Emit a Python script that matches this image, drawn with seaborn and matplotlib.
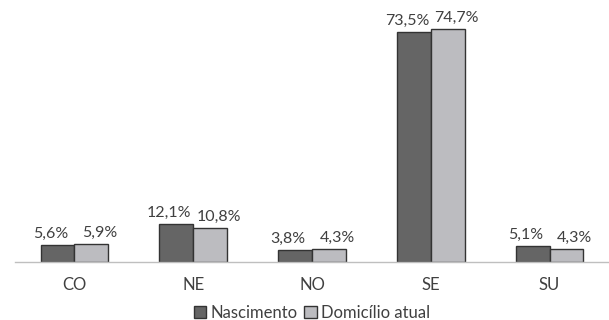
import matplotlib
matplotlib.use('Agg')
import matplotlib.pyplot as plt
import seaborn as sns
import pandas as pd

regioes = ['CO', 'NE', 'NO', 'SE', 'SU']
nascimento = [5.6, 12.1, 3.8, 73.5, 5.1]
domicilio = [5.9, 10.8, 4.3, 74.7, 4.3]
series = ['Nascimento', 'Domicílio atual']

df = pd.DataFrame({
    'regiao': regioes * 2,
    'valor': nascimento + domicilio,
    'serie': [series[0]] * 5 + [series[1]] * 5,
})

sns.set_style('white')
plt.rcParams['font.family'] = ['Lato', 'DejaVu Sans']
text_color = '#404040'

fig = plt.figure(figsize=(6.09, 3.2), dpi=100)
ax = fig.add_axes([0.0246, 0.181, 0.9754, 0.7815])

sns.barplot(data=df, x='regiao', y='valor', hue='serie', order=regioes,
            hue_order=series, palette=['#656565', '#bcbcc0'], width=0.57,
            edgecolor='#333333', linewidth=1, saturation=1, ax=ax, legend=False)

# labels pushed slightly outward, as in the original
for cont, dx in zip(ax.containers, [-5, 6]):
    labels = [f'{b.get_height():.1f}%'.replace('.', ',') for b in cont]
    txts = ax.bar_label(cont, labels=labels, padding=3, fontsize=11.5, color=text_color)
    for t in txts:
        x, y = t.xyann
        t.xyann = (x + dx, y)

ax.set_xlim(-0.5, 4.5)
ax.set_ylim(0, 80)
ax.set_xlabel('')
ax.set_ylabel('')
ax.set_yticks([])
for s in ['top', 'right', 'left']:
    ax.spines[s].set_visible(False)
ax.spines['bottom'].set_color('#bfbfbf')
ax.spines['bottom'].set_linewidth(1)
ax.set_xticks(range(5))
ax.set_xticklabels(regioes, fontsize=12, color=text_color)
ax.tick_params(axis='x', which='major', length=0, pad=11)
ax.set_xticks([0.5, 1.5, 2.5, 3.5], minor=True)
ax.tick_params(axis='x', which='minor', length=5, color='#bfbfbf', direction='out')

handles = [plt.Rectangle((0, 0), 1, 1, facecolor=c, edgecolor='#333333', linewidth=1)
           for c in ['#656565', '#bcbcc0']]
fig.legend(handles, series, loc='lower center', ncol=2, frameon=False,
           bbox_to_anchor=(0.512, -0.05), fontsize=12, handlelength=0.75,
           handleheight=0.75, handletextpad=0.25, columnspacing=0.4,
           labelcolor=text_color)

fig.savefig('out.png', dpi=100)
